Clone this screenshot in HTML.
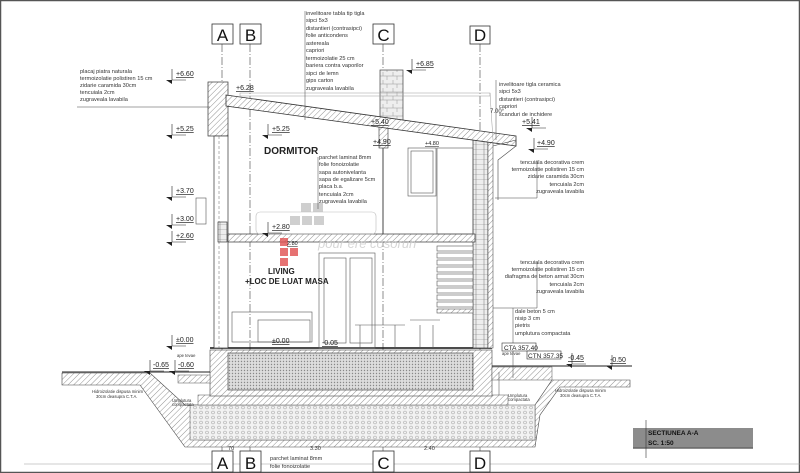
<!DOCTYPE html>
<html><head><meta charset="utf-8"><style>
html,body{margin:0;padding:0;background:#fff;}
svg{display:block;font-family:"Liberation Sans",sans-serif;}
.t{font-size:5.6px;fill:#333;}
.e{font-size:7px;fill:#222;text-decoration:underline;}
.ax{font-size:17px;fill:#111;}
</style></head><body>
<svg width="800" height="473" viewBox="0 0 800 473" xmlns="http://www.w3.org/2000/svg">
<defs>
<pattern id="h" width="4" height="4" patternUnits="userSpaceOnUse" patternTransform="rotate(45)"><rect width="4" height="4" fill="#fff"/><line x1="0" y1="0" x2="0" y2="4" stroke="#777" stroke-width="0.8"/></pattern>
<pattern id="d" width="3" height="3" patternUnits="userSpaceOnUse"><rect width="3" height="3" fill="#ddd"/><circle cx="1.5" cy="1.5" r="0.7" fill="#888"/></pattern>
<pattern id="g" width="6" height="5" patternUnits="userSpaceOnUse"><rect width="6" height="5" fill="#f2f2f2"/><circle cx="3" cy="2.5" r="1.5" fill="none" stroke="#999" stroke-width="0.5"/></pattern>
<pattern id="b" width="8" height="5" patternUnits="userSpaceOnUse"><rect width="8" height="5" fill="#eee"/><path d="M0 5H8M4 0V5" stroke="#777" stroke-width="0.5"/></pattern>
<pattern id="s" width="10" height="8" patternUnits="userSpaceOnUse"><rect width="10" height="8" fill="#eee"/><path d="M0 4H10M3 0V4M7 4V8" stroke="#999" stroke-width="0.5"/></pattern>
</defs>
<rect x="0" y="0" width="800" height="473" fill="#fff"/>
<rect x="0.5" y="0.5" width="799" height="472" fill="none" stroke="#555" stroke-width="1.5"/>
<line x1="24" y1="464" x2="800" y2="464" stroke="#999" stroke-width="0.6"/>

<!-- axes -->
<g stroke="#444" stroke-width="0.6" stroke-dasharray="8 2 1 2">
<line x1="222" y1="44" x2="222" y2="451"/><line x1="250" y1="44" x2="250" y2="451"/>
<line x1="383" y1="44" x2="383" y2="451"/><line x1="480" y1="44" x2="480" y2="451"/>
</g>
<g fill="#fff" stroke="#333" stroke-width="0.8">
<rect x="212" y="24" width="21" height="20"/><rect x="240" y="24" width="21" height="20"/>
<rect x="373" y="24" width="21" height="20"/><rect x="470" y="26" width="20" height="18"/>
<rect x="212" y="451" width="21" height="21"/><rect x="240" y="451" width="21" height="21"/>
<rect x="373" y="451" width="21" height="21"/><rect x="470" y="451" width="20" height="21"/>
</g>
<g class="ax" text-anchor="middle">
<text x="222.5" y="41">A</text><text x="250.5" y="41">B</text><text x="383.5" y="41">C</text><text x="480" y="41">D</text>
<text x="222.5" y="469">A</text><text x="250.5" y="469">B</text><text x="383.5" y="469">C</text><text x="480" y="469">D</text>
</g>

<!-- ground/foundation -->
<path d="M62 373 L150 373 L185 405 L200 405 L200 440 L535 440 L535 405 L552 380 L630 380 L630 387 L560 387 L540 415 L535 447 L185 447 L140 385 L62 385 Z" fill="url(#h)" stroke="#444" stroke-width="0.6"/>
<rect x="190" y="405" width="345" height="35" fill="url(#g)" stroke="#555" stroke-width="0.5"/>
<rect x="198" y="395" width="310" height="10" fill="url(#h)" stroke="#555" stroke-width="0.5"/>
<rect x="210" y="350" width="282" height="46" fill="url(#h)" stroke="#444" stroke-width="0.6"/>
<rect x="228" y="353" width="245" height="37" fill="url(#d)" stroke="#333" stroke-width="0.6"/>
<rect x="178" y="375" width="32" height="8" fill="url(#h)" stroke="#555" stroke-width="0.5"/>
<rect x="492" y="367" width="60" height="13" fill="url(#h)" stroke="#555" stroke-width="0.5"/>
<line x1="62" y1="372" x2="210" y2="372" stroke="#222" stroke-width="1"/>
<line x1="492" y1="366" x2="632" y2="366" stroke="#222" stroke-width="1"/>
<line x1="210" y1="348" x2="492" y2="348" stroke="#111" stroke-width="1.6"/>

<!-- walls -->
<rect x="208" y="82" width="20" height="54" fill="url(#h)" stroke="#333" stroke-width="0.7"/>
<rect x="214" y="136" width="14" height="212" fill="#fff" stroke="#333" stroke-width="0.7"/>
<line x1="219" y1="136" x2="219" y2="348" stroke="#666" stroke-width="0.5" stroke-dasharray="3 2"/>
<rect x="218" y="222" width="9" height="20" fill="url(#b)" stroke="#222" stroke-width="0.6"/>
<rect x="473" y="140" width="15" height="208" fill="url(#b)" stroke="#333" stroke-width="0.7"/>
<rect x="488" y="140" width="5" height="208" fill="url(#h)" stroke="#333" stroke-width="0.5"/>
<rect x="379" y="126" width="9" height="22" fill="url(#h)" stroke="#333" stroke-width="0.6"/>
<line x1="383" y1="148" x2="383" y2="235" stroke="#444" stroke-width="1"/>
<!-- chimney -->
<rect x="380" y="70" width="23" height="52" fill="url(#s)" stroke="#444" stroke-width="0.7"/>
<!-- roof -->
<path d="M226 95 L516 136 L516 146 L226 106 Z" fill="url(#h)" stroke="#333" stroke-width="0.8"/>
<rect x="240" y="93" width="250" height="3" fill="none" stroke="#999" stroke-width="0.5"/>
<line x1="490" y1="93" x2="493" y2="140" stroke="#999" stroke-width="0.5"/>
<!-- upper slab -->
<rect x="228" y="234" width="247" height="8" fill="url(#h)" stroke="#333" stroke-width="0.7"/>
<!-- gutter -->
<path d="M493 146 L516 140 L516 146 L498 160 L498 200" fill="none" stroke="#444" stroke-width="0.6"/>
<!-- windows / doors -->
<g fill="none" stroke="#555" stroke-width="0.6">
<rect x="408" y="148" width="28" height="48"/><rect x="411" y="151" width="22" height="42"/>
<rect x="437" y="148" width="36" height="86"/>
<rect x="319" y="253" width="56" height="95"/><rect x="324" y="258" width="22" height="85"/><rect x="350" y="258" width="22" height="85"/>
<rect x="256" y="212" width="120" height="22" rx="4" stroke="#bbb"/>
<rect x="232" y="312" width="80" height="30"/><rect x="258" y="320" width="52" height="22"/>
<rect x="196" y="198" width="10" height="26"/>
<path d="M360 348V325M395 348V325M355 325H405M420 348V325M433 348V325M410 320H440"/>
</g>
<!-- stairs -->
<g stroke="#555" stroke-width="0.6" fill="#fff">
<rect x="437" y="246" width="36" height="5"/><rect x="437" y="253" width="36" height="5"/><rect x="437" y="260" width="36" height="5"/>
<rect x="437" y="267" width="36" height="5"/><rect x="437" y="274" width="36" height="5"/><rect x="437" y="281" width="36" height="5"/>
<rect x="437" y="288" width="36" height="5"/><rect x="437" y="295" width="36" height="5"/><rect x="437" y="302" width="36" height="5"/>
<rect x="437" y="309" width="36" height="4" fill="url(#h)"/>
</g>

<!-- room labels -->
<text x="264" y="154" font-size="10" font-weight="bold" fill="#222">DORMITOR</text>
<text x="268" y="274" font-size="8" font-weight="bold" fill="#222">LIVING</text>
<text x="245" y="284" font-size="8" font-weight="bold" fill="#222">+LOC DE LUAT MASA</text>
<g fill="#e05050" opacity="0.8"><rect x="280" y="238" width="8" height="8"/><rect x="280" y="248" width="8" height="8"/><rect x="290" y="248" width="8" height="8"/><rect x="280" y="258" width="8" height="8"/></g>
<g fill="#bbb" opacity="0.7"><rect x="301" y="203" width="10" height="9"/><rect x="313" y="203" width="10" height="9"/><rect x="290" y="216" width="10" height="9"/><rect x="302" y="216" width="10" height="9"/><rect x="314" y="216" width="10" height="9"/></g>
<text x="318" y="248" font-size="13" font-style="italic" fill="#ccc" opacity="0.8">pour ere cosoruh</text>

<!-- elevation marks -->
<g class="e">
<text x="176" y="76">+6.60</text><text x="236" y="90">+6.28</text><text x="176" y="131">+5.25</text>
<text x="272" y="131">+5.25</text><text x="176" y="193">+3.70</text><text x="176" y="221">+3.00</text>
<text x="176" y="238">+2.60</text><text x="272" y="229">+2.80</text>
<text x="416" y="66">+6.85</text><text x="371" y="124">+5.40</text><text x="373" y="144">+4.90</text>
<text x="425" y="145" font-size="5.5">+4.80</text><text x="522" y="124">+5.41</text><text x="537" y="145">+4.90</text>
<text x="176" y="342">±0.00</text><text x="272" y="343">±0.00</text><text x="322" y="345">-0.05</text>
<text x="153" y="367">-0.65</text><text x="178" y="367">-0.60</text><text x="568" y="360">-0.45</text><text x="610" y="362">-0.50</text>
<text x="287" y="245" font-size="5.5">2.80</text>
</g>
<path fill="none" stroke="#222" stroke-width="0.6" d="M172 69V80H186M172 124V135H186M172 186V197H186M172 214V225H186M172 231V242H186M172 335V346H186M268 124V135H282M268 222V233H282M412 59V70H426M532 117V128H546M534 138V149H548M572 353V364H586M612 355V366H626M150 360V371H164M175 360V371H189"/>
<path fill="#222" d="M166 80L172 80L172 84ZM166 135L172 135L172 139ZM166 197L172 197L172 201ZM166 225L172 225L172 229ZM166 242L172 242L172 246ZM166 346L172 346L172 350ZM262 135L268 135L268 139ZM262 233L268 233L268 237ZM406 70L412 70L412 74ZM526 128L532 128L532 132ZM528 149L534 149L534 153ZM566 364L572 364L572 368ZM606 366L612 366L612 370ZM144 371L150 371L150 375ZM169 371L175 371L175 375Z"/>

<!-- annotation lines -->
<g stroke="#444" stroke-width="0.5" fill="none">
<path d="M77 107H210M305 11V120M496 80V140M495 198H537V160M318 157V209M493 308H537V262M513 308V378M499 372V395"/>
</g>
<g class="t">
<text x="80" y="73">placaj piatra naturala</text><text x="80" y="80">termoizolatie polistiren 15 cm</text>
<text x="80" y="87">zidarie caramida 30cm</text><text x="80" y="94">tencuiala 2cm</text><text x="80" y="101">zugraveala lavabila</text>
<text x="306" y="15">invelitoare tabla tip tigla</text><text x="306" y="22">sipci 5x3</text><text x="306" y="30">distantieri (contrasipci)</text>
<text x="306" y="37">folie anticondens</text><text x="306" y="45">astereala</text><text x="306" y="52">capriori</text>
<text x="306" y="60">termoizolatie 25 cm</text><text x="306" y="67">bariera contra vaporilor</text><text x="306" y="75">sipci de lemn</text>
<text x="306" y="82">gips carton</text><text x="306" y="90">zugraveala lavabila</text>
<text x="499" y="86">invelitoare tigla ceramica</text><text x="499" y="93">sipci 5x3</text><text x="499" y="101">distantieri (contrasipci)</text>
<text x="499" y="108">capriori</text><text x="499" y="116">scanduri de inchidere</text>
<text x="319" y="159">parchet laminat 8mm</text><text x="319" y="166">folie fonoizolatie</text><text x="319" y="174">sapa autonivelanta</text>
<text x="319" y="181">sapa de egalizare 5cm</text><text x="319" y="188">placa b.a.</text><text x="319" y="196">tencuiala 2cm</text><text x="319" y="203">zugraveala lavabila</text>
<g text-anchor="end"><text x="584" y="164">tencuiala decorativa crem</text><text x="584" y="171">termoizolatie polistiren 15 cm</text>
<text x="584" y="178">zidarie caramida 30cm</text><text x="584" y="186">tencuiala 2cm</text><text x="584" y="193">zugraveala lavabila</text>
<text x="584" y="264">tencuiala decorativa crem</text><text x="584" y="271">termoizolatie polistiren 15 cm</text>
<text x="584" y="278">diafragma de beton armat 30cm</text><text x="584" y="286">tencuiala 2cm</text><text x="584" y="293">zugraveala lavabila</text></g>
<text x="515" y="313">dale beton 5 cm</text><text x="515" y="320">nisip 3 cm</text><text x="515" y="327">pietris</text><text x="515" y="335">umplutura compactata</text>
<text x="270" y="460">parchet laminat 8mm</text><text x="270" y="468">folie fonoizolatie</text>
<text x="92" y="393" font-size="4.2">Hidroizolatie dispusa minim</text><text x="96" y="398" font-size="4.2">30cm deasupra C.T.A.</text>
<text x="555" y="392" font-size="4.2">Hidroizolatie dispusa minim</text><text x="560" y="397" font-size="4.2">30cm deasupra C.T.A.</text>
<text x="172" y="402" font-size="4.2">Umplutura</text><text x="172" y="406" font-size="4.2">compactata</text>
<text x="508" y="397" font-size="4.2">Umplutura</text><text x="508" y="401" font-size="4.2">compactata</text>
<text x="177" y="357" font-size="4.2">ape tevae</text><text x="502" y="355" font-size="4.2">ape tevae</text>
<text x="228" y="450">70</text><text x="310" y="450">3.30</text><text x="424" y="450">2.40</text>
</g>
<text x="490" y="113" font-size="6" fill="#333">7.00°</text>
<rect x="502" y="343" width="34" height="8" fill="#fff" stroke="#333" stroke-width="0.6"/><text x="504" y="350" font-size="6.5" fill="#222">CTA 357.40</text>
<rect x="527" y="351" width="34" height="8" fill="#fff" stroke="#333" stroke-width="0.6"/><text x="528" y="358" font-size="6.5" fill="#222">CTN 357.35</text>

<!-- title -->
<rect x="633" y="428" width="120" height="20" fill="#8c8c8c"/>
<line x1="633" y1="448" x2="753" y2="448" stroke="#666" stroke-width="1.5"/>
<line x1="646" y1="420" x2="646" y2="458" stroke="#333" stroke-width="0.6"/>
<text x="648" y="435" font-size="6.5" font-weight="bold" fill="#111">SECTIUNEA  A-A</text>
<text x="648" y="445" font-size="6.5" font-weight="bold" fill="#111">SC. 1:50</text>
</svg>
</body></html>
